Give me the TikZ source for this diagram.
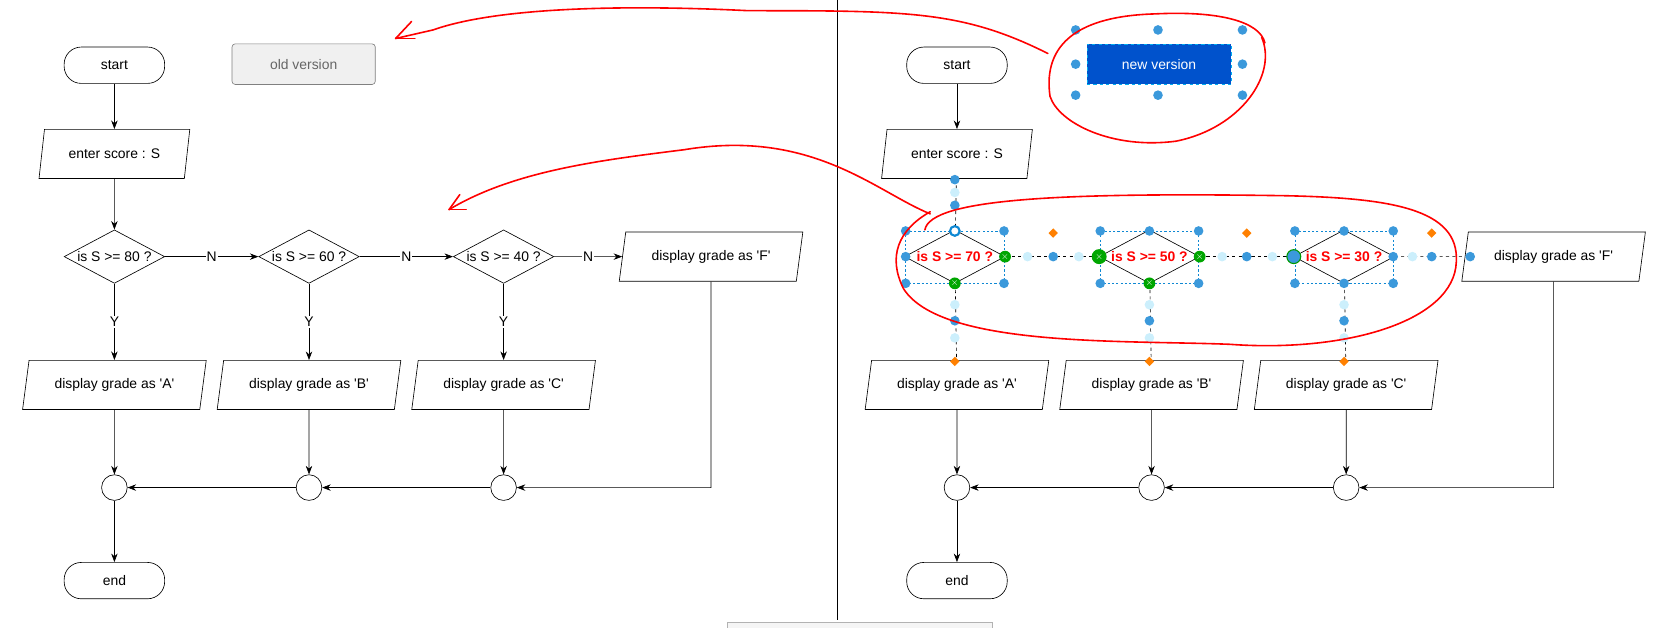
\documentclass[tikz,border=0pt]{standalone}
\usepackage{fontspec}
\setmainfont{Liberation Sans}
\usetikzlibrary{shapes.geometric,arrows.meta}
\begin{document}
\begin{tikzpicture}[x=1pt,y=-1pt,line width=0.6pt,
  every node/.style={font=\fontsize{13}{15}\selectfont},
  term/.style={draw,rounded corners=16pt,minimum width=94pt,minimum height=34pt,inner sep=0},
  io/.style={draw,trapezium,trapezium left angle=73,trapezium right angle=107,minimum width=142pt,minimum height=46pt,inner sep=1pt,trapezium stretches=true},
  iow/.style={io,minimum width=172pt},
  dia/.style={draw,diamond,minimum width=94pt,minimum height=50pt,inner sep=0,aspect=1.9},
  jn/.style={draw,circle,minimum size=24pt,inner sep=0},
  ar/.style={-{Stealth[length=8pt,width=6pt]}},
  lab/.style={fill=white,inner sep=1pt},
  h/.style={circle,fill=cyan!70!blue!80,draw=none,minimum size=9pt,inner sep=0},
  hl/.style={circle,fill=cyan!20,draw=none,minimum size=9pt,inner sep=0},
  gx/.style={circle,fill=green!65!black,draw=none,minimum size=11pt,inner sep=0,text=white,font=\bfseries\fontsize{9}{9}\selectfont},
  od/.style={diamond,fill=orange,minimum size=9pt,inner sep=0},
  sel/.style={draw=cyan!70!blue,dashed,dash pattern=on 2pt off 2pt},
  red/.style={draw=red,line width=1.5pt,line cap=round,line join=round}]
\useasboundingbox (0,0) rectangle (1560,587);
\def\q{\textquotesingle}
% ---------- left ----------
\node[term] (s1) at (107,61) {start};
\node[draw=gray,fill=gray!12,rounded corners=3pt,minimum width=134pt,minimum height=38pt,text=gray!80!black] (ov) at (284,60) {old version};
\node[io] (e1) at (107,144) {enter score : S};
\node[dia] (a1) at (107,240) {}; \node at (a1) {is S >= 80 ?};
\node[dia] (b1) at (289,240) {}; \node at (b1) {is S >= 60 ?};
\node[dia] (c1) at (471,240) {}; \node at (c1) {is S >= 40 ?};
\node[iow] (f1) at (665,240) {display grade as \q F\q};
\node[iow] (da1) at (107,360) {display grade as \q A\q};
\node[iow] (db1) at (289,360) {display grade as \q B\q};
\node[iow] (dc1) at (471,360) {display grade as \q C\q};
\node[jn] (ja1) at (107,456) {};
\node[jn] (jb1) at (289,456) {};
\node[jn] (jc1) at (471,456) {};
\node[term] (en1) at (107,543) {end};
\coordinate (fc1) at (665,456);
\draw[ar] (s1) -- (e1);
\draw[ar] (e1) -- (a1);
\draw[ar] (a1) -- node[lab]{N} (b1);
\draw[ar] (b1) -- node[lab]{N} (c1);
\draw[ar] (c1) -- node[lab]{N} (f1.west);
\draw[ar] (a1) -- node[lab]{Y} (da1);
\draw[ar] (b1) -- node[lab]{Y} (db1);
\draw[ar] (c1) -- node[lab]{Y} (dc1);
\draw[ar] (da1) -- (ja1);
\draw[ar] (db1) -- (jb1);
\draw[ar] (dc1) -- (jc1);
\draw[ar] (f1.south) -- (fc1) -- (jc1);
\draw[ar] (jc1) -- (jb1);
\draw[ar] (jb1) -- (ja1);
\draw[ar] (ja1) -- (en1);
% divider
\coordinate (dv1) at (783,0); \coordinate (dv2) at (783,580);
\draw (dv1) -- (dv2);
\node[draw=gray!60,fill=gray!8,minimum width=248pt,minimum height=12pt,inner sep=0] (bar) at (804,588) {};
% ---------- right ----------
\node[term] (s2) at (895,61) {start};
\node[fill=blue!60!cyan!80!black,draw=cyan,dashed,minimum width=135pt,minimum height=38pt,text=white] (nv) at (1084,60) {new version};
\foreach \x/\y in {1006/28,1083/28,1162/28,1006/60,1162/60,1006/89,1083/89,1162/89} \node[h] at (\x,\y) {};
\node[io] (e2) at (895,144) {enter score : S};
\node[dia] (a2) at (893,240) {};
\node[dia] (b2) at (1075,240) {};
\node[dia] (c2) at (1257,240) {};
\node[iow] (f2) at (1453,240) {display grade as \q F\q};
\node[iow] (da2) at (895,360) {display grade as \q A\q};
\node[iow] (db2) at (1077,360) {display grade as \q B\q};
\node[iow] (dc2) at (1259,360) {display grade as \q C\q};
\node[jn] (ja2) at (895,456) {};
\node[jn] (jb2) at (1077,456) {};
\node[jn] (jc2) at (1259,456) {};
\node[term] (en2) at (895,543) {end};
\coordinate (fc2) at (1453,456);
\draw[ar] (s2) -- (e2);
\draw[dashed] (e2) -- (a2);
\draw[dashed] (a2) -- (b2);
\draw[dashed] (b2) -- (c2);
\draw[dashed] (c2) -- (f2.west);
\draw[dashed] (a2) -- (da2);
\draw[dashed] (b2) -- (db2);
\draw[dashed] (c2) -- (dc2);
\draw[ar] (da2) -- (ja2);
\draw[ar] (db2) -- (jb2);
\draw[ar] (dc2) -- (jc2);
\draw[ar] (f2.south) -- (fc2) -- (jc2);
\draw[ar] (jc2) -- (jb2);
\draw[ar] (jb2) -- (ja2);
\draw[ar] (ja2) -- (en2);
% selection boxes and handles
\foreach \c in {893,1075,1257}{
  \draw[sel,line width=0.5pt] (\c-46,216) rectangle (\c+46,265);
  \foreach \dx/\dy in {-46/216,0/216,46/216,-46/240,46/240,-46/265,0/265,46/265} \node[h] at (\c+\dx,\dy) {};
  \node[hl] at (\c,285) {};
  \node[h] at (\c,300) {};
  \node[hl] at (\c,316) {};
  \node[od] at (\c,338) {};
}
\foreach \x in {961,1009,1143,1190,1321} \node[hl] at (\x,240) {};
\foreach \x in {985,1166,1339} {\node[h] at (\x,240) {}; \node[od] at (\x,218) {};}
\node[h] at (1375,240) {};
\node[h] at (893,168) {}; \node[hl] at (893,180) {}; \node[h] at (893,192) {};
\node[circle,draw=cyan!70!blue,line width=2pt,fill=white,minimum size=9pt,inner sep=0] at (893,216) {};
\node[gx] at (940,240) {$\times$};
\node[gx] at (893,265) {$\times$};
\node[gx,minimum size=14pt] at (1028,240) {$\times$};
\node[gx] at (1122,240) {$\times$};
\node[gx] at (1075,265) {$\times$};
\node[h,draw=green!60!black,line width=1pt,minimum size=13pt] at (1210,240) {};
\foreach \n/\t in {a2/70,b2/50,c2/30} \node[text=red,font=\bfseries\fontsize{13}{15}\selectfont] at (\n) {is S >= \t\ ?};
% red annotations
\draw[red] (1183,40) .. controls (1178,20) and (1140,10) .. (1080,13) .. controls (1010,15) and (975,40) .. (982,90) .. controls (990,115) and (1040,140) .. (1100,132) .. controls (1160,120) and (1195,70) .. (1180,35);
\draw[red] (980,50) .. controls (900,10) and (850,10) .. (700,10) .. controls (600,5) and (470,5) .. (405,28) -- (370,36);
\draw[red] (370,36) -- (385,20);
\draw[red] (370,36) -- (388,36);
\draw[red] (870,200) .. controls (820,180) and (760,120) .. (640,140) .. controls (560,150) and (480,160) .. (420,196);
\draw[red] (420,196) -- (430,182); \draw[red] (420,196) -- (436,196);
\draw[red] (865,215) .. controls (870,185) and (1000,180) .. (1200,183) .. controls (1300,185) and (1365,195) .. (1362,245) .. controls (1360,300) and (1260,330) .. (1150,322) .. controls (1050,318) and (880,325) .. (845,270) .. controls (830,240) and (840,215) .. (870,198);
\end{tikzpicture}
\end{document}
